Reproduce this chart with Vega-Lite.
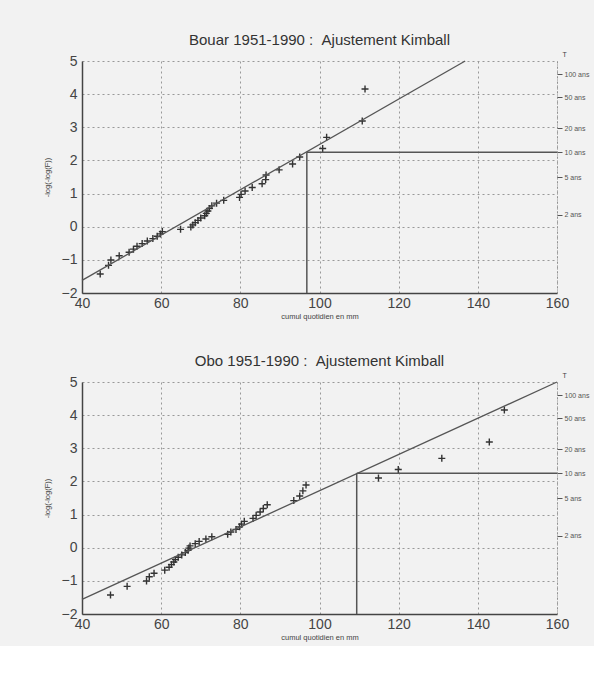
{
  "$schema": "https://vega.github.io/schema/vega-lite/v6.json",
  "background": "#f2f2f2",
  "padding": {"left": 43, "top": 33, "right": 5, "bottom": 5},
  "spacing": 34,
  "config": {
    "view": {"stroke": null},
    "font": "Liberation Sans",
    "title": {"fontSize": 15, "fontWeight": "normal", "color": "#333", "offset": 2, "font": "Liberation Sans"},
    "axis": {"labelFont": "Liberation Sans", "titleFont": "Liberation Sans"}
  },
  "datasets": {
    "bouar": [
      {"x": 44.6, "y": -1.427}, {"x": 46.7, "y": -1.166}, {"x": 47.3, "y": -1.004}, {"x": 49.4, "y": -0.878},
      {"x": 51.9, "y": -0.772}, {"x": 53.0, "y": -0.677}, {"x": 53.9, "y": -0.59}, {"x": 55.2, "y": -0.509},
      {"x": 56.5, "y": -0.432}, {"x": 57.9, "y": -0.358}, {"x": 59.0, "y": -0.287}, {"x": 59.8, "y": -0.217},
      {"x": 60.3, "y": -0.148}, {"x": 64.9, "y": -0.08}, {"x": 67.5, "y": -0.012}, {"x": 68.0, "y": 0.055},
      {"x": 68.6, "y": 0.123}, {"x": 69.3, "y": 0.191}, {"x": 70.0, "y": 0.261}, {"x": 71.0, "y": 0.331},
      {"x": 71.4, "y": 0.403}, {"x": 71.8, "y": 0.476}, {"x": 72.2, "y": 0.552}, {"x": 72.8, "y": 0.63},
      {"x": 74.0, "y": 0.711}, {"x": 75.8, "y": 0.795}, {"x": 79.8, "y": 0.884}, {"x": 80.2, "y": 0.977},
      {"x": 81.2, "y": 1.076}, {"x": 83.0, "y": 1.182}, {"x": 85.5, "y": 1.297}, {"x": 86.4, "y": 1.422},
      {"x": 86.5, "y": 1.561}, {"x": 89.8, "y": 1.716}, {"x": 93.2, "y": 1.894}, {"x": 95.0, "y": 2.103},
      {"x": 100.8, "y": 2.36}, {"x": 101.8, "y": 2.697}, {"x": 110.8, "y": 3.19}, {"x": 111.5, "y": 4.157}
    ],
    "obo": [
      {"x": 47.2, "y": -1.427}, {"x": 51.4, "y": -1.166}, {"x": 56.3, "y": -1.004}, {"x": 57.0, "y": -0.878},
      {"x": 58.2, "y": -0.772}, {"x": 60.9, "y": -0.677}, {"x": 62.0, "y": -0.59}, {"x": 62.6, "y": -0.509},
      {"x": 63.2, "y": -0.432}, {"x": 63.6, "y": -0.358}, {"x": 64.3, "y": -0.287}, {"x": 65.2, "y": -0.217},
      {"x": 66.1, "y": -0.148}, {"x": 66.8, "y": -0.08}, {"x": 67.0, "y": -0.012}, {"x": 67.3, "y": 0.055},
      {"x": 68.6, "y": 0.123}, {"x": 69.6, "y": 0.191}, {"x": 71.3, "y": 0.261}, {"x": 72.8, "y": 0.331},
      {"x": 76.8, "y": 0.403}, {"x": 77.6, "y": 0.476}, {"x": 78.9, "y": 0.552}, {"x": 79.8, "y": 0.63},
      {"x": 80.3, "y": 0.711}, {"x": 81.0, "y": 0.795}, {"x": 83.2, "y": 0.884}, {"x": 84.0, "y": 0.977},
      {"x": 85.0, "y": 1.076}, {"x": 85.8, "y": 1.182}, {"x": 86.8, "y": 1.297}, {"x": 93.5, "y": 1.422},
      {"x": 95.0, "y": 1.561}, {"x": 95.8, "y": 1.716}, {"x": 96.6, "y": 1.894}, {"x": 114.9, "y": 2.103},
      {"x": 119.9, "y": 2.36}, {"x": 130.9, "y": 2.697}, {"x": 142.9, "y": 3.19}, {"x": 146.7, "y": 4.157}
    ],
    "bouarFit": [{"x": 40, "y": -1.62}, {"x": 136.8, "y": 5}],
    "oboFit": [{"x": 40, "y": -1.56}, {"x": 160, "y": 5}],
    "bouarT": [{"x": 96.8, "x2": 96.8, "y": -2, "y2": 2.25}, {"x": 96.8, "x2": 160, "y": 2.25, "y2": 2.25}],
    "oboT": [{"x": 109.4, "x2": 109.4, "y": -2, "y2": 2.25}, {"x": 109.4, "x2": 160, "y": 2.25, "y2": 2.25}],
    "tAxis": [{"x": 160, "y": 2.25}]
  },
  "vconcat": [
    {
      "width": 475, "height": 232,
      "title": "Bouar 1951-1990 :\u00a0\u00a0Ajustement Kimball",
      "layer": [
        {
          "encoding": {
            "x": {"field": "x", "type": "quantitative", "scale": {"domain": [40, 160], "nice": false, "zero": false},
              "axis": {"values": [40, 60, 80, 100, 120, 140, 160], "title": "cumul quotidien en mm", "titleFontSize": 7.5, "titleColor": "#444", "titleFontWeight": "normal", "titlePadding": 2,
                "labelFontSize": 14, "labelColor": "#444", "labelPadding": 3, "ticks": false, "domainColor": "#444", "domainWidth": 1.5, "labelOverlap": false,
                "grid": true, "gridDash": [2, 3], "gridColor": "#999", "gridOpacity": 1, "labelFlush": false}},
            "y": {"field": "y", "type": "quantitative", "scale": {"domain": [-2, 5], "nice": false, "zero": false},
              "axis": {"values": [-2, -1, 0, 1, 2, 3, 4, 5], "tickCount": 8, "title": "-log(-log(F))", "titleFontSize": 7.5, "titleColor": "#444", "titleFontWeight": "normal", "titlePadding": 10,
                "labelFontSize": 14, "labelColor": "#444", "labelPadding": 5, "ticks": false, "domainColor": "#444", "domainWidth": 1.5, "labelOverlap": false,
                "grid": true, "gridDash": [2, 3], "gridColor": "#999", "gridOpacity": 1, "labelFlush": false}}
          },
          "layer": [
            {
              "data": {"name": "bouar"},
              "mark": {"type": "point", "shape": "M-1,0L1,0M0,-1L0,1", "size": 49, "filled": false, "strokeWidth": 1.4, "color": "#333", "opacity": 1}
            },
            {
              "data": {"name": "bouarFit"},
              "mark": {"type": "line", "color": "#555", "strokeWidth": 1.3}
            },
            {
              "data": {"name": "bouarT"},
              "mark": {"type": "rule", "color": "#555", "strokeWidth": 1.5},
              "encoding": {"x2": {"field": "x2"}, "y2": {"field": "y2"}}
            }
          ]
        },
        {
          "data": {"name": "tAxis"},
          "mark": {"type": "point", "opacity": 0},
          "encoding": {
            "x": {"field": "x", "type": "quantitative"},
            "y": {"field": "y", "type": "quantitative", "scale": {"domain": [-2, 5], "nice": false, "zero": false},
              "axis": {"orient": "right", "values": [0.367, 1.5, 2.25, 2.97, 3.9, 4.6],
                "labelExpr": "datum.value > 4.5 ? '100 ans' : datum.value > 3.5 ? '50 ans' : datum.value > 2.5 ? '20 ans' : datum.value > 2 ? '10 ans' : datum.value > 1 ? '5 ans' : '2 ans'",
                "labelFontSize": 7, "labelColor": "#555", "labelPadding": 2, "tickSize": 5, "tickColor": "#555", "labelOverlap": false,
                "domainColor": "#888", "domainDash": [1, 2], "grid": false,
                "title": "T", "titleAngle": 0, "titleFontSize": 7, "titleFontWeight": "normal", "titleColor": "#444", "titleAlign": "left", "titleBaseline": "bottom", "titleX": 5, "titleY": -4}}
          }
        }
      ],
      "resolve": {"scale": {"y": "independent"}}
    },
    {
      "width": 475, "height": 232,
      "title": "Obo 1951-1990 :\u00a0\u00a0Ajustement Kimball",
      "layer": [
        {
          "encoding": {
            "x": {"field": "x", "type": "quantitative", "scale": {"domain": [40, 160], "nice": false, "zero": false},
              "axis": {"values": [40, 60, 80, 100, 120, 140, 160], "title": "cumul quotidien en mm", "titleFontSize": 7.5, "titleColor": "#444", "titleFontWeight": "normal", "titlePadding": 2,
                "labelFontSize": 14, "labelColor": "#444", "labelPadding": 3, "ticks": false, "domainColor": "#444", "domainWidth": 1.5, "labelOverlap": false,
                "grid": true, "gridDash": [2, 3], "gridColor": "#999", "gridOpacity": 1, "labelFlush": false}},
            "y": {"field": "y", "type": "quantitative", "scale": {"domain": [-2, 5], "nice": false, "zero": false},
              "axis": {"values": [-2, -1, 0, 1, 2, 3, 4, 5], "tickCount": 8, "title": "-log(-log(F))", "titleFontSize": 7.5, "titleColor": "#444", "titleFontWeight": "normal", "titlePadding": 10,
                "labelFontSize": 14, "labelColor": "#444", "labelPadding": 5, "ticks": false, "domainColor": "#444", "domainWidth": 1.5, "labelOverlap": false,
                "grid": true, "gridDash": [2, 3], "gridColor": "#999", "gridOpacity": 1, "labelFlush": false}}
          },
          "layer": [
            {
              "data": {"name": "obo"},
              "mark": {"type": "point", "shape": "M-1,0L1,0M0,-1L0,1", "size": 49, "filled": false, "strokeWidth": 1.4, "color": "#333", "opacity": 1}
            },
            {
              "data": {"name": "oboFit"},
              "mark": {"type": "line", "color": "#555", "strokeWidth": 1.3}
            },
            {
              "data": {"name": "oboT"},
              "mark": {"type": "rule", "color": "#555", "strokeWidth": 1.5},
              "encoding": {"x2": {"field": "x2"}, "y2": {"field": "y2"}}
            }
          ]
        },
        {
          "data": {"name": "tAxis"},
          "mark": {"type": "point", "opacity": 0},
          "encoding": {
            "x": {"field": "x", "type": "quantitative"},
            "y": {"field": "y", "type": "quantitative", "scale": {"domain": [-2, 5], "nice": false, "zero": false},
              "axis": {"orient": "right", "values": [0.367, 1.5, 2.25, 2.97, 3.9, 4.6],
                "labelExpr": "datum.value > 4.5 ? '100 ans' : datum.value > 3.5 ? '50 ans' : datum.value > 2.5 ? '20 ans' : datum.value > 2 ? '10 ans' : datum.value > 1 ? '5 ans' : '2 ans'",
                "labelFontSize": 7, "labelColor": "#555", "labelPadding": 2, "tickSize": 5, "tickColor": "#555", "labelOverlap": false,
                "domainColor": "#888", "domainDash": [1, 2], "grid": false,
                "title": "T", "titleAngle": 0, "titleFontSize": 7, "titleFontWeight": "normal", "titleColor": "#444", "titleAlign": "left", "titleBaseline": "bottom", "titleX": 5, "titleY": -4}}
          }
        }
      ],
      "resolve": {"scale": {"y": "independent"}}
    }
  ]
}
